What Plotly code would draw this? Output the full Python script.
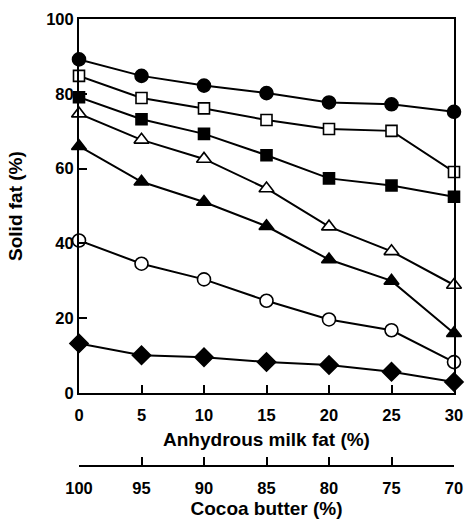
import plotly.graph_objects as go

milk_fat = [0, 5, 10, 15, 20, 25, 30]
cocoa_butter = [100, 95, 90, 85, 80, 75, 70]

s_filled_circle = [89.2, 84.8, 82.2, 80.2, 77.7, 77.2, 75.2]
s_open_square = [84.8, 78.9, 76.1, 73.0, 70.6, 70.1, 59.1]
s_filled_square = [79.1, 73.2, 69.3, 63.6, 57.4, 55.5, 52.5]
s_open_triangle = [74.7, 67.7, 62.6, 54.7, 44.5, 37.9, 28.9]
s_filled_triangle = [66.0, 56.5, 51.1, 44.6, 35.7, 30.0, 16.0]
s_open_circle = [40.8, 34.6, 30.4, 24.7, 19.7, 16.8, 8.3]
s_filled_diamond = [13.3, 10.1, 9.6, 8.3, 7.5, 5.7, 3.0]

series = [
    (s_filled_circle, "circle", "black", 13),
    (s_open_square, "square", "white", 11),
    (s_filled_square, "square", "black", 11),
    (s_open_triangle, "triangle-up", "white", 13),
    (s_filled_triangle, "triangle-up", "black", 13),
    (s_open_circle, "circle", "white", 13),
    (s_filled_diamond, "diamond", "black", 14),
]

fig = go.Figure()
for vals, sym, fill, size in series:
    fig.add_trace(go.Scatter(
        x=milk_fat, y=vals, mode="lines+markers",
        line=dict(color="black", width=2),
        marker=dict(symbol=sym, color=fill, size=size,
                    line=dict(color="black", width=1.6)),
        showlegend=False, cliponaxis=False,
    ))

# invisible trace to carry the cocoa butter axis
fig.add_trace(go.Scatter(x=cocoa_butter, y=[None] * len(cocoa_butter),
                         xaxis="x2", yaxis="y", mode="markers",
                         showlegend=False, hoverinfo="skip"))

font = dict(family="Liberation Sans, Arial, sans-serif", size=16.5,
            color="black", weight="bold")

fig.update_layout(
    width=473, height=525,
    margin=dict(l=79, r=10, t=14, b=57),
    paper_bgcolor="white", plot_bgcolor="white",
    font=font,
    xaxis=dict(
        range=[0, 30], tickvals=milk_fat, ticks="inside", ticklen=8,
        tickwidth=2, tickcolor="black", showline=True, linecolor="black",
        linewidth=2, mirror=True, showgrid=False, zeroline=False,
        anchor="y", ticklabelstandoff=6,
        title=dict(text="Anhydrous milk fat (%)", font=dict(size=19),
                   standoff=10),
    ),
    xaxis2=dict(
        range=[100, 70], tickvals=cocoa_butter, ticks="inside", ticklen=8,
        tickwidth=2, tickcolor="black", showline=True, linecolor="black",
        linewidth=2, showgrid=False, zeroline=False,
        overlaying="x", anchor="free", position=0, side="bottom",
        ticklabelstandoff=7,
        title=dict(text="Cocoa butter (%)", font=dict(size=19), standoff=5),
    ),
    yaxis=dict(
        range=[0, 100], tickvals=[0, 20, 40, 60, 80, 100],
        domain=[0.163, 1],
        ticks="inside", ticklen=8, tickwidth=2, tickcolor="black",
        showline=True, linecolor="black", linewidth=2, mirror=True,
        showgrid=False, zeroline=False,
        title=dict(text="Solid fat (%)", font=dict(size=19), standoff=19),
    ),
)

fig.write_html("out.html")
